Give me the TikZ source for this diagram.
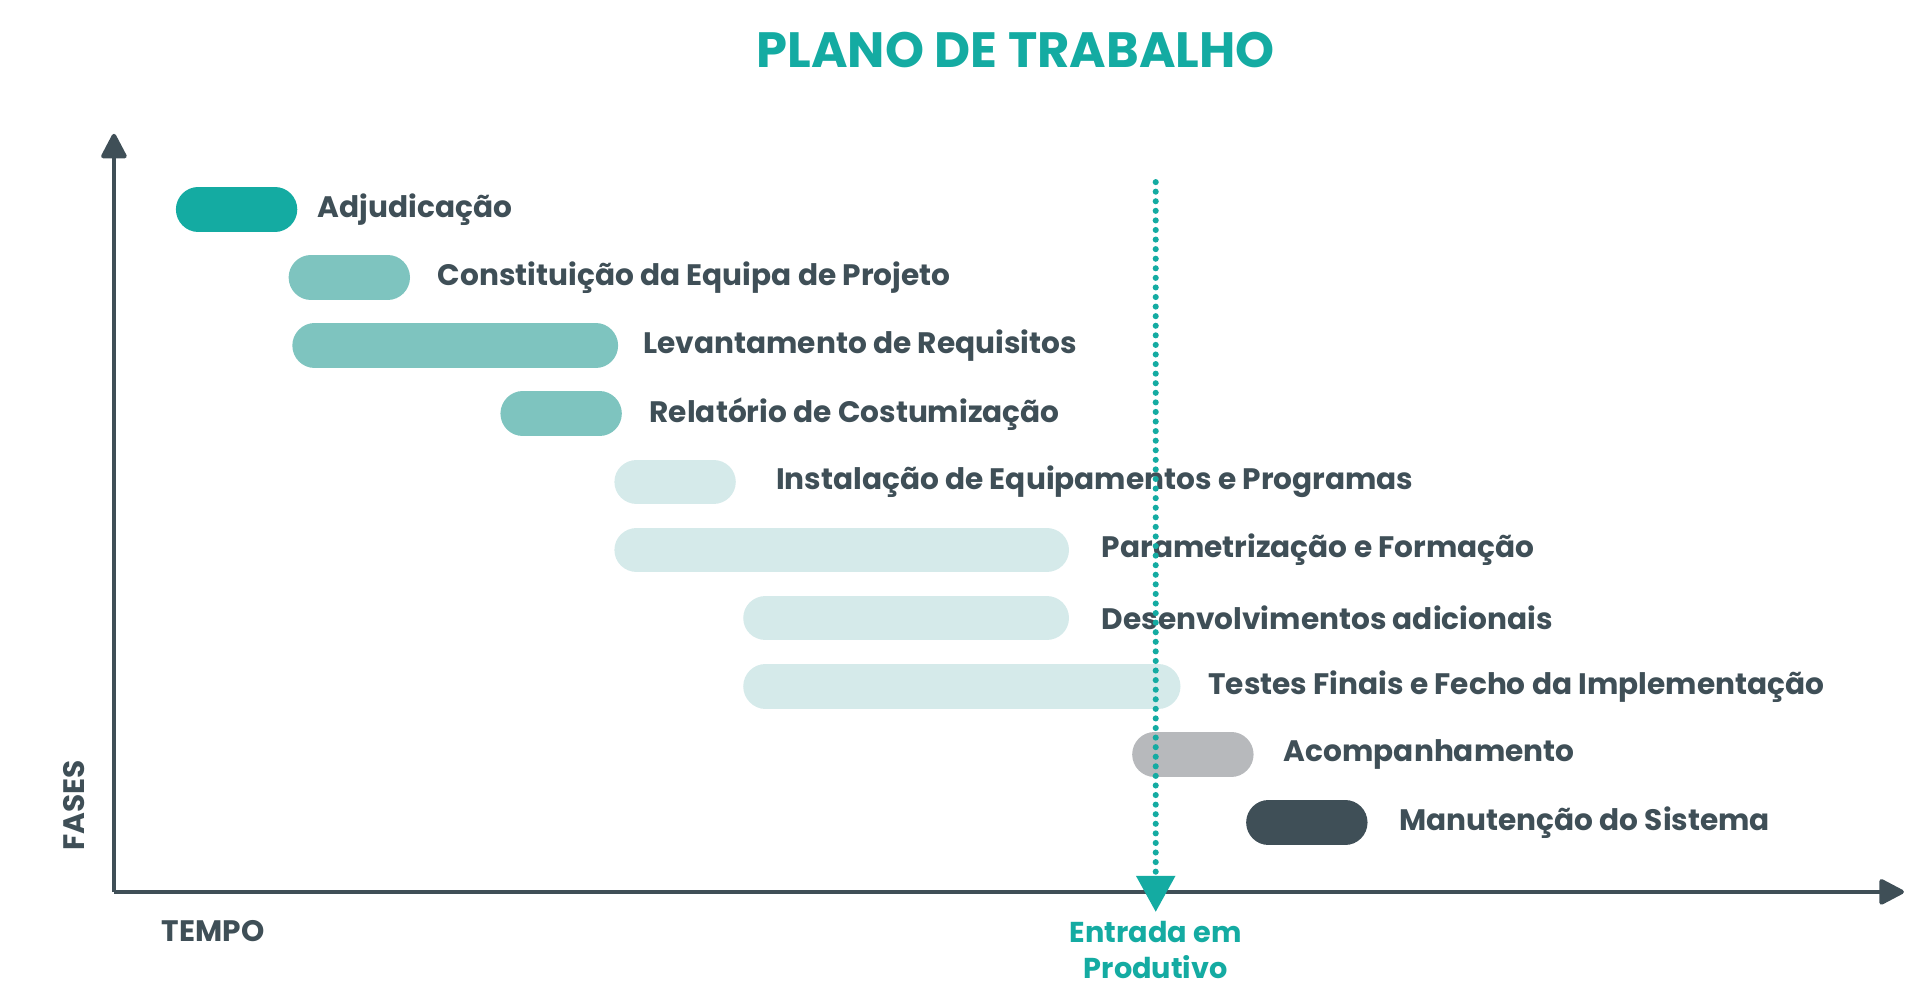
\documentclass[tikz,border=0pt]{standalone}
\usepackage{fontspec}
\setmainfont{Poppins}
\usetikzlibrary{arrows.meta}
\definecolor{teal1}{HTML}{14ABA2}
\definecolor{teal2}{HTML}{7EC4BF}
\definecolor{teal3}{HTML}{D5EAEA}
\definecolor{grey1}{HTML}{B7B9BC}
\definecolor{dark}{HTML}{3F4F57}
\begin{document}
\begin{tikzpicture}[x=0.05cm,y=-0.05cm,
  bar/.style={line width=1.8cm,line cap=round},
  lab/.style={anchor=west,text=dark,font=\fontsize{34}{40}\selectfont\bfseries},
  ax/.style={draw=dark,line width=5pt,-{Triangle[length=1.1cm,width=1.1cm,round]}}]
\useasboundingbox (0,0) rectangle (1550,801);
\node[text=teal1,font=\fontsize{57}{60}\selectfont\bfseries] (title) at (820,40) {PLANO DE TRABALHO};
\coordinate (o) at (92,720);
\coordinate (ytop) at (92,108);
\coordinate (xend) at (1537,720);
\draw[ax] (o) -- (ytop);
\draw[ax] (o) -- (xend);
\draw[bar,draw=teal1] (160,169) -- (222,169); \node[lab] (l1) at (254,169) {Adjudicação};
\draw[bar,draw=teal2] (251,224) -- (313,224); \node[lab] (l2) at (351,224) {Constituição da Equipa de Projeto};
\draw[bar,draw=teal2] (254,279) -- (481,279); \node[lab] (l3) at (517,279) {Levantamento de Requisitos};
\draw[bar,draw=teal2] (422,334) -- (484,334); \node[lab] (l4) at (522,334) {Relatório de Costumização};
\draw[bar,draw=teal3] (514,389) -- (576,389); \node[lab] (l5) at (624,389) {Instalação de Equipamentos e Programas};
\draw[bar,draw=teal3] (514,444) -- (845,444); \node[lab] (l6) at (887,444) {Parametrização e Formação};
\draw[bar,draw=teal3] (618,499) -- (845,499); \node[lab] (l7) at (887,499) {Desenvolvimentos adicionais};
\draw[bar,draw=teal3] (618,554) -- (935,554); \node[lab] (l8) at (973,554) {Testes Finais e Fecho da Implementação};
\draw[bar,draw=grey1] (932,609) -- (994,609); \node[lab] (l9) at (1034,609) {Acompanhamento};
\draw[bar,draw=dark] (1024,664) -- (1086,664); \node[lab] (l10) at (1127,664) {Manutenção do Sistema};
\coordinate (dtop) at (933,147);
\draw[teal1,line width=7pt,line cap=round,dash pattern=on 0pt off 11pt] (dtop) -- (933,712);
\fill[teal1] (917,707) -- (949,707) -- (933,736) -- cycle;
\node[text=teal1,align=center,font=\fontsize{33}{42}\selectfont\bfseries] (entrada) at (933,767) {Entrada em\\Produtivo};
\node[lab,anchor=center] (tempo) at (172,752) {TEMPO};
\node[lab,anchor=center,rotate=90] (fases) at (60,650) {FASES};
\end{tikzpicture}
\end{document}
